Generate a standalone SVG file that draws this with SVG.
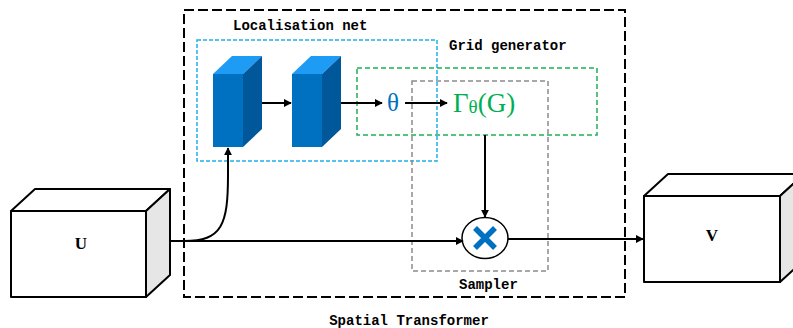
<svg xmlns="http://www.w3.org/2000/svg" width="793" height="328" viewBox="0 0 793 328">
  <defs>
    <marker id="arrow" viewBox="0 0 10 10" refX="9" refY="5" markerWidth="8" markerHeight="8" markerUnits="userSpaceOnUse" orient="auto">
      <path d="M0,0 L10,5 L0,10 z" fill="#000"/>
    </marker>
  </defs>
  <style>
    .lbl { font-family: "Liberation Mono", "DejaVu Sans Mono", monospace; font-weight: bold; font-size: 14px; fill: #000; }
    .big { font-family: "Liberation Serif", "DejaVu Serif", serif; font-weight: bold; font-size: 17px; fill: #000; }
    .conn { fill: none; stroke: #000; stroke-width: 2; }
    .box { fill: #fff; stroke: #000; stroke-width: 2; stroke-linejoin: round; }
    .boxside { fill: #e6e6e6; stroke: #000; stroke-width: 2; stroke-linejoin: round; }
    .front { fill: #0070c0; }
    .top { fill: #1e9bf5; }
    .side { fill: #00579a; }
  </style>

  <!-- module frames -->
  <g id="spatial-transformer">
    <rect x="184" y="10" width="441" height="287" fill="none" stroke="#000" stroke-width="2" stroke-dasharray="10,4"/>
    <text class="lbl" x="409" y="325" text-anchor="middle">Spatial Transformer</text>
  </g>
  <g id="localisation-net">
    <rect x="197" y="40" width="240" height="121" fill="none" stroke="#1fb0e6" stroke-width="1.5" stroke-dasharray="4,2"/>
    <text class="lbl" x="233" y="30">Localisation net</text>
  </g>
  <g id="grid-generator">
    <rect x="357" y="68" width="240" height="67" fill="none" stroke="#1fae55" stroke-width="1.5" stroke-dasharray="5,3"/>
    <text class="lbl" x="449" y="50">Grid generator</text>
  </g>
  <g id="sampler">
    <rect x="412" y="81" width="136" height="190" fill="none" stroke="#8c8c8c" stroke-width="1.5" stroke-dasharray="5,3"/>
    <text class="lbl" x="459" y="289">Sampler</text>
  </g>

  <!-- localisation layers -->
  <g id="layer1">
    <polygon class="top" points="213,74 232,56 262,56 243,74"/>
    <polygon class="side" points="243,74 262,56 262,129 243,147"/>
    <rect class="front" x="213" y="74" width="30" height="73"/>
  </g>
  <g id="layer2">
    <polygon class="top" points="292,74 311,56 341,56 322,74"/>
    <polygon class="side" points="322,74 341,56 341,129 322,147"/>
    <rect class="front" x="292" y="74" width="30" height="73"/>
  </g>

  <!-- parameters and grid -->
  <g id="theta">
    <text x="393" y="111" text-anchor="middle" font-family="Liberation Serif, DejaVu Serif, serif" font-size="25" fill="#0070c0">θ</text>
  </g>
  <g id="grid">
    <text x="453" y="112" font-family="Liberation Serif, DejaVu Serif, serif" font-size="27" fill="#00b050">Γ<tspan font-size="19" dy="1">θ</tspan><tspan dy="-1">(G)</tspan></text>
  </g>

  <!-- sampling operator -->
  <g id="multiply">
    <ellipse cx="485" cy="238" rx="23" ry="20.5" fill="#fff" stroke="#000" stroke-width="1.5"/>
    <path d="M475,228 L495,248 M495,228 L475,248" stroke="#0070c0" stroke-width="5.5" stroke-linecap="butt"/>
  </g>

  <!-- input / output feature maps -->
  <g id="U">
    <polygon class="box" points="11,211 35,189 170,189 146,211"/>
    <polygon class="boxside" points="146,211 170,189 170,275 146,297"/>
    <rect class="box" x="11" y="211" width="135" height="86"/>
    <text class="big" x="81" y="249" text-anchor="middle">U</text>
  </g>
  <g id="V">
    <polygon class="box" points="644,196 668,174 804,174 780,196"/>
    <polygon class="boxside" points="780,196 804,174 804,260 780,282"/>
    <rect class="box" x="644" y="196" width="136" height="86"/>
    <text class="big" x="712" y="241" text-anchor="middle">V</text>
  </g>

  <!-- connectors -->
  <g id="connectors">
    <path class="conn" d="M170,241 L463,241" marker-end="url(#arrow)"/>
    <path class="conn" d="M184,241 C222,241 228,225 228,175 L228,148" marker-end="url(#arrow)"/>
    <path class="conn" d="M262,103 L291,103" marker-end="url(#arrow)"/>
    <path class="conn" d="M341,103 L382,103" marker-end="url(#arrow)"/>
    <path class="conn" d="M405,103 L447,103" marker-end="url(#arrow)"/>
    <path class="conn" d="M485,135 L485,217" marker-end="url(#arrow)"/>
    <path class="conn" d="M508,239 L643,239" marker-end="url(#arrow)"/>
  </g>
</svg>
